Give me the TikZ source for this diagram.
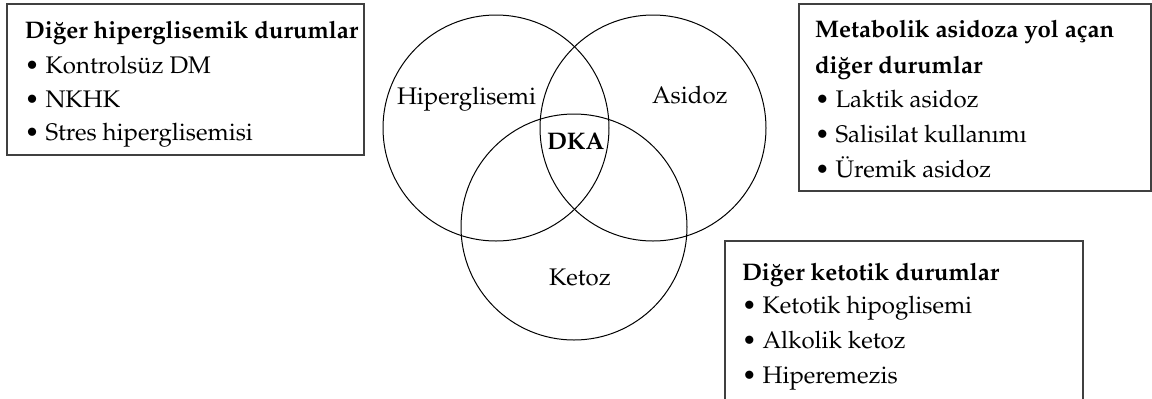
\documentclass[tikz,border=0pt]{standalone}
\usepackage[T1]{fontenc}
\usepackage{mathpazo}
\begin{document}
\begin{tikzpicture}[x=0.5pt,y=-0.5pt,
  every node/.style={inner sep=0pt,outer sep=0pt,font=\fontsize{12}{14}\selectfont},
  txt/.style={anchor=base west},
  vcircle/.style={draw=black,line width=0.5pt},
  infobox/.style={draw=black!75,line width=0.7pt}]
\clip (0,0) rectangle (1152,398);
\fill[white] (0,0) rectangle (1152,398);
% Venn circles
\draw[vcircle] (496,128) circle[radius=113];
\draw[vcircle] (653,128) circle[radius=113];
\draw[vcircle] (574,227) circle[radius=113];
\node[txt] (hg) at (397,104) {Hiperglisemi};
\node[txt] (as) at (652,103) {Asidoz};
\node[txt] (dka) at (547,149) {\textbf{DKA}};
\node[txt] (ke) at (549,285) {Ketoz};
% Box 1
\draw[infobox] (7,4) rectangle (364,155);
\node[txt] (b1t) at (25,38) {\textbf{Di\u{g}er hiperglisemik durumlar}};
\node[txt] (b1a) at (25,73) {\textbullet\ Kontrols\"uz DM};
\node[txt] (b1b) at (25,107) {\textbullet\ NKHK};
\node[txt] (b1c) at (25,140) {\textbullet\ Stres hiperglisemisi};
% Box 2
\draw[infobox] (799,4) rectangle (1151,191);
\node[txt] (b2t) at (815,37) {\textbf{Metabolik asidoza yol a\c{c}an}};
\node[txt] (b2u) at (815,73) {\textbf{di\u{g}er durumlar}};
\node[txt] (b2a) at (815,107) {\textbullet\ Laktik asidoz};
\node[txt] (b2b) at (815,142) {\textbullet\ Salisilat kullan\i m\i};
\node[txt] (b2c) at (815,177) {\textbullet\ \"Uremik asidoz};
% Box 3
\draw[infobox] (725,241) rectangle (1083,420);
\node[txt] (b3t) at (742,280) {\textbf{Di\u{g}er ketotik durumlar}};
\node[txt] (b3a) at (742,313) {\textbullet\ Ketotik hipoglisemi};
\node[txt] (b3b) at (742,348) {\textbullet\ Alkolik ketoz};
\node[txt] (b3c) at (742,383) {\textbullet\ Hiperemezis};
\end{tikzpicture}
\end{document}
